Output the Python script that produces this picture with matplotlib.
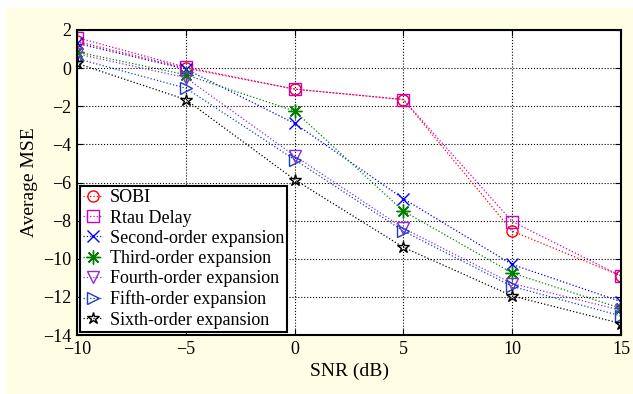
import numpy as np
import matplotlib
matplotlib.use('Agg')
import matplotlib.pyplot as plt
from matplotlib.patches import Rectangle

plt.rcParams['font.family'] = ['Liberation Serif', 'DejaVu Serif']

snr = [-10, -5, 0, 5, 10, 15]

sobi = [1.4, 0.0, -1.1, -1.65, -8.55, -10.9]
rtau = [1.6, 0.05, -1.1, -1.65, -8.05, -10.9]
second = [1.3, -0.05, -2.9, -6.85, -10.3, -12.25]
third = [0.85, -0.35, -2.25, -7.5, -10.75, -12.6]
fourth = [0.75, -0.5, -4.6, -8.4, -11.3, -12.7]
fifth = [0.5, -1.05, -4.8, -8.55, -11.45, -13.0]
sixth = [0.25, -1.65, -5.85, -9.4, -11.95, -13.4]

names = ['SOBI', 'Rtau Delay', 'Second-order expansion', 'Third-order expansion',
         'Fourth-order expansion', 'Fifth-order expansion', 'Sixth-order expansion']
series = [sobi, rtau, second, third, fourth, fifth, sixth]
colors = ['#FF0000', '#C800C8', '#0000FF', '#008000', '#8A2BE2', '#1F3FBF', '#000000']
# MATLAB-like markers: circle, square, x, asterisk, down-triangle, right-triangle, pentagram
markers = ['o', 's', 'x', (8, 2, 0), 'v', '>', '*']
sizes = [8, 8, 8, 10, 9, 9, 9]

fig = plt.figure(figsize=(6.33, 3.94), dpi=100, facecolor='white')
fig.patches.append(Rectangle((6 / 633, 0), 1, 1 - 8 / 394, transform=fig.transFigure,
                             facecolor='#FFFDE4', edgecolor='none', zorder=-10))
ax = fig.add_axes([77 / 633, 1 - 335 / 394, 544 / 633, 305 / 394])

for y, name, c, m, ms in zip(series, names, colors, markers, sizes):
    ax.plot(snr, y, linestyle=':', color=c, linewidth=0.9, marker=m, markersize=ms,
            markerfacecolor='none', markeredgecolor=c, markeredgewidth=1.0, label=name)

ax.set_xlim(-10, 15)
ax.set_ylim(-14, 2)
ax.set_xticks(snr)
ax.set_yticks(np.arange(-14, 3, 2))
ax.set_xticklabels(['\u221210', '\u22125', '0', '5', '10', '15'])
ax.set_yticklabels(['\u2212%d' % -v if v < 0 else '%d' % v for v in np.arange(-14, 3, 2)])
ax.grid(True, linestyle=':', color='black', linewidth=0.8)
ax.tick_params(direction='in', labelsize=13, length=4, top=True, right=True, pad=4)
for s in ax.spines.values():
    s.set_linewidth(1.5)
ax.set_xlabel('SNR (dB)', fontsize=14, labelpad=4)
ax.set_ylabel('Average MSE', fontsize=14, labelpad=4)

leg = ax.legend(loc='lower left', fontsize=13, fancybox=False, framealpha=1,
                edgecolor='black', borderaxespad=0.15, handlelength=1.1,
                handletextpad=0.35, labelspacing=0.18, borderpad=0.2)
leg.get_frame().set_linewidth(1.5)

fig.savefig('out.png', dpi=100, facecolor=fig.get_facecolor())
